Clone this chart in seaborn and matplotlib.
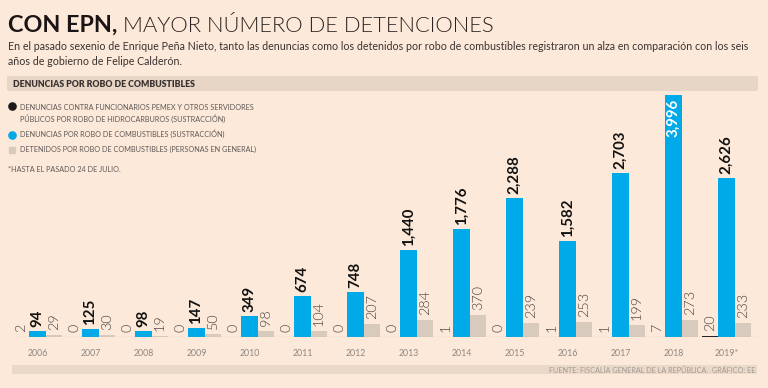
import numpy as np
import pandas as pd
import matplotlib
matplotlib.use("Agg")
import matplotlib.pyplot as plt
import seaborn as sns
from matplotlib import font_manager
from matplotlib.patches import Rectangle, FancyBboxPatch
from matplotlib.lines import Line2D

# ---------------- data ----------------
years = ["2006", "2007", "2008", "2009", "2010", "2011", "2012",
         "2013", "2014", "2015", "2016", "2017", "2018", "2019*"]
funcionarios = [2, 0, 0, 0, 0, 0, 0, 0, 1, 0, 1, 1, 7, 20]
denuncias = [94, 125, 98, 147, 349, 674, 748, 1440, 1776, 2288, 1582, 2703, 3996, 2626]
detenidos = [29, 30, 19, 50, 98, 104, 207, 284, 370, 239, 253, 199, 273, 233]
series = ["Funcionarios", "Denuncias", "Detenidos"]

title_bold = "CON EPN,"
title_light = "MAYOR NÚMERO DE DETENCIONES"
subtitle1 = ("En el pasado sexenio de Enrique Peña Nieto, tanto las denuncias como los detenidos "
             "por robo de combustibles registraron un alza en comparación con los seis")
subtitle2 = "años de gobierno de Felipe Calderón."
header = "DENUNCIAS POR ROBO DE COMBUSTIBLES"
legend_lines = ["DENUNCIAS CONTRA FUNCIONARIOS PEMEX Y OTROS SERVIDORES",
                "PÚBLICOS POR ROBO DE HIDROCARBUROS (SUSTRACCIÓN)",
                "DENUNCIAS POR ROBO DE COMBUSTIBLES (SUSTRACCIÓN)",
                "DETENIDOS POR ROBO DE COMBUSTIBLES (PERSONAS EN GENERAL)"]
note = "*HASTA EL PASADO 24 DE JULIO."
source = "FUENTE: FISCALÍA GENERAL DE LA REPÚBLICA.  GRÁFICO: EE"

# ---------------- style ----------------
BG = "#FCE9D9"
BLACK = "#1E1A1A"
BLUE = "#00A9E8"
GRAY = "#D8CABD"
TXT_GRAY = "#5f5856"
LIGHT = 300

sns.set_theme(style="white")
available = {f.name for f in font_manager.fontManager.ttflist}
FONT = "Lato" if "Lato" in available else "DejaVu Sans"
plt.rcParams["font.family"] = [FONT, "DejaVu Sans"]

W, H = 768, 388
fig = plt.figure(figsize=(W / 100, H / 100), dpi=100, facecolor=BG)


def fx(x):
    return x / W


def fy(y):
    return 1 - y / H


# axes: baseline at y=337 px, top (3996) at y=95 px, x from 12 to 757 px
ax = fig.add_axes([fx(12), fy(337), (757 - 12) / W, (337 - 95) / H])
ax.set_facecolor("none")

df = pd.DataFrame({
    "year": np.repeat(years, 3),
    "serie": series * len(years),
    "value": np.ravel(np.column_stack([funcionarios, denuncias, detenidos])),
})

sns.barplot(data=df, x="year", y="value", hue="serie", hue_order=series,
            palette=[BLACK, BLUE, GRAY], width=0.925, saturation=1,
            legend=False, ax=ax, edgecolor="none", linewidth=0)

ax.set_ylim(0, max(denuncias))
step = 53.0
ax.set_xlim(-25.5 / step, len(years) - 1 + (757 - 726.5) / step)
ax.axhline(0, color="#a89e96", lw=0.8, zorder=3)
for s in ax.spines.values():
    s.set_visible(False)
ax.set_yticks([])
ax.set_xlabel("")
ax.set_ylabel("")
ax.tick_params(axis="x", length=0, pad=9, labelsize=6.3, labelcolor="#8f8680")

# bar value labels
PT = 0.72  # points per pixel
vmax = max(denuncias)
for ci, cont in enumerate(ax.containers):
    for patch in cont:
        h = patch.get_height()
        xc = patch.get_x() + patch.get_width() / 2
        val = f"{int(round(h)):,}"
        if ci == 1:
            if h >= vmax:
                ax.annotate(val, (xc, h), xytext=(0, -4 * PT), textcoords="offset points",
                            rotation=90, ha="center", va="top", fontsize=10.8,
                            fontweight="bold", color="white", clip_on=False)
            else:
                ax.annotate(val, (xc, h), xytext=(0, 4 * PT), textcoords="offset points",
                            rotation=90, ha="center", va="bottom", fontsize=10.8,
                            fontweight="bold", color="#111111", clip_on=False)
        else:
            ax.annotate(val, (xc, h), xytext=(0, 5 * PT), textcoords="offset points",
                        rotation=90, ha="center", va="bottom", fontsize=10.4,
                        fontweight=LIGHT, color="#4a4342", clip_on=False)

# ---------------- texts ----------------
fig.canvas.draw()
renderer = fig.canvas.get_renderer()


def fit(t, target_w):
    bb = t.get_window_extent(renderer)
    t.set_fontsize(t.get_fontsize() * target_w / bb.width)
    return t


t1 = fig.text(fx(8), fy(32), title_bold, fontsize=17, fontweight="bold",
              color="#1a1514", va="baseline", ha="left")
fit(t1, 109)
t2 = fig.text(fx(123), fy(32), title_light, fontsize=t1.get_fontsize(), fontweight=LIGHT,
              color="#2a2322", va="baseline", ha="left")
fit(t2, 374)

s1 = fig.text(fx(8), fy(50), subtitle1, fontsize=8, color="#3a3230", va="baseline", ha="left")
fit(s1, 740)
fig.text(fx(8), fy(65), subtitle2, fontsize=s1.get_fontsize(), color="#3a3230",
         va="baseline", ha="left")

# header band
fig.patches.append(FancyBboxPatch((fx(7), fy(91)), (758 - 7) / W, (91 - 76) / H,
                                  boxstyle="round,pad=0,rounding_size=0.004",
                                  transform=fig.transFigure, facecolor="#E7D5C5",
                                  edgecolor="none", zorder=0))
h1 = fig.text(fx(13), fy(87), header, fontsize=6, fontweight="heavy",
              color="#3a3330", va="baseline", ha="left")
fit(h1, 185)

# legend
lg = fig.text(fx(20), fy(110), legend_lines[0], fontsize=6, fontweight="normal",
              color=TXT_GRAY, va="baseline", ha="left")
fit(lg, 235)
lfs = lg.get_fontsize()
for txt, yy in zip(legend_lines[1:], [122, 137, 152]):
    fig.text(fx(20), fy(yy), txt, fontsize=lfs, fontweight="normal", color=TXT_GRAY,
             va="baseline", ha="left")
fig.text(fx(8), fy(172), note, fontsize=lfs, fontweight="normal", color=TXT_GRAY,
         va="baseline", ha="left")
fig.lines.append(Line2D([fx(12)], [fy(106)], marker="o", markersize=5.2, color=BLACK,
                        transform=fig.transFigure, linestyle="none"))
fig.lines.append(Line2D([fx(12)], [fy(134.5)], marker="o", markersize=5.2, color=BLUE,
                        transform=fig.transFigure, linestyle="none"))
fig.lines.append(Line2D([fx(12)], [fy(149.5)], marker="s", markersize=4.5, color=GRAY,
                        transform=fig.transFigure, linestyle="none"))

# bottom band + source
fig.patches.append(Rectangle((fx(12), fy(374)), (757 - 12) / W, (374 - 365) / H,
                             transform=fig.transFigure, facecolor="#EAD8C9",
                             edgecolor="none", zorder=0))
src = fig.text(fx(755), fy(373), source, fontsize=6, fontweight="normal",
               color="#a39a94", va="baseline", ha="right")
fit(src, 207)

fig.savefig("out.png", dpi=100, facecolor=BG)
